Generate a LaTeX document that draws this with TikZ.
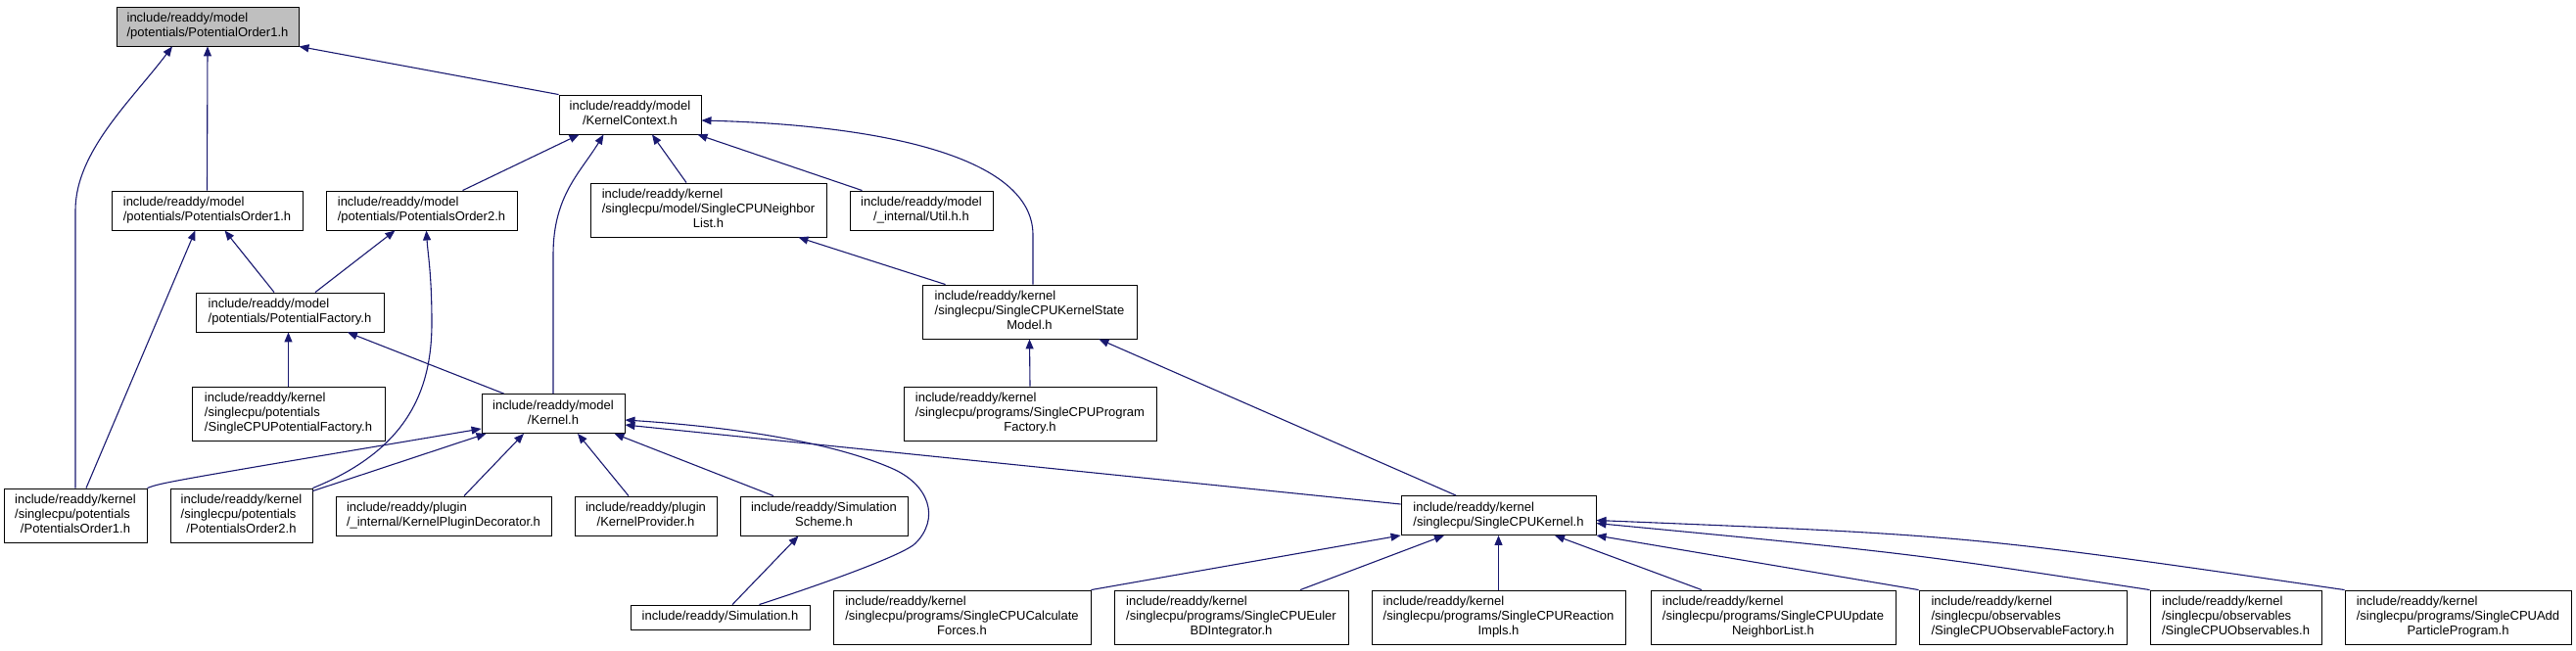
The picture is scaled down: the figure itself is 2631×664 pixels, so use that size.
\documentclass[tikz,border=0pt]{standalone}
\usepackage{fontspec}
\setmainfont{Liberation Sans}
\usetikzlibrary{arrows.meta}
\definecolor{edgeblue}{RGB}{25,25,112}
\definecolor{rootgray}{RGB}{191,191,191}
\newcommand{\hlabel}[2]{\begin{tabular}{@{}l@{}}#1\\\multicolumn{1}{@{}c@{}}{#2}\end{tabular}}

\begin{document}
\begin{tikzpicture}[
  x=1pt, y=-1pt,
  box/.style={draw, line width=0.9pt, inner sep=0pt, font=\fontsize{13}{15}\selectfont, minimum height=40pt},
  tall/.style={minimum height=55pt},
  arrow/.style={-{Triangle[length=10pt,width=8pt]}, line width=1.1pt, color=edgeblue}
]
\useasboundingbox (0,0) rectangle (2631,664);

\node[box, fill=rootgray, minimum width=186pt] (root) at (212,27) {\hlabel{include/readdy/model}{/potentials/PotentialOrder1.h}};
\node[box, minimum width=145pt] (context) at (643.5,117) {\hlabel{include/readdy/model}{/KernelContext.h}};
\node[box, minimum width=195pt] (pot1) at (211.5,215) {\hlabel{include/readdy/model}{/potentials/PotentialsOrder1.h}};
\node[box, minimum width=195pt] (pot2) at (430.5,215) {\hlabel{include/readdy/model}{/potentials/PotentialsOrder2.h}};
\node[box, tall, minimum width=241pt] (nlist) at (723.5,214.5) {\hlabel{include/readdy/kernel\\/singlecpu/model/SingleCPUNeighbor}{List.h}};
\node[box, minimum width=146pt] (util) at (941,215) {\hlabel{include/readdy/model}{/\_internal/Util.h.h}};
\node[box, minimum width=192pt] (potfac) at (296,319) {\hlabel{include/readdy/model}{/potentials/PotentialFactory.h}};
\node[box, tall, minimum width=219pt] (statemodel) at (1051.5,318.5) {\hlabel{include/readdy/kernel\\/singlecpu/SingleCPUKernelState}{Model.h}};
\node[box, tall, minimum width=197pt] (cpupotfac) at (294.5,422.5) {\hlabel{include/readdy/kernel\\/singlecpu/potentials}{/SingleCPUPotentialFactory.h}};
\node[box, minimum width=146pt] (kernel) at (565,422.5) {\hlabel{include/readdy/model}{/Kernel.h}};
\node[box, tall, minimum width=258pt] (progfac) at (1052,422.5) {\hlabel{include/readdy/kernel\\/singlecpu/programs/SingleCPUProgram}{Factory.h}};
\node[box, tall, minimum width=146pt] (cpupot1) at (77,526.5) {\hlabel{include/readdy/kernel\\/singlecpu/potentials}{/PotentialsOrder1.h}};
\node[box, tall, minimum width=145pt] (cpupot2) at (246.5,526.5) {\hlabel{include/readdy/kernel\\/singlecpu/potentials}{/PotentialsOrder2.h}};
\node[box, minimum width=220pt] (decorator) at (453,527) {\hlabel{include/readdy/plugin}{/\_internal/KernelPluginDecorator.h}};
\node[box, minimum width=145pt] (provider) at (659.5,527) {\hlabel{include/readdy/plugin}{/KernelProvider.h}};
\node[box, minimum width=171pt] (scheme) at (841.5,527) {\hlabel{include/readdy/Simulation}{Scheme.h}};
\node[box, minimum width=199pt] (cpukernel) at (1530.5,526.5) {\hlabel{include/readdy/kernel}{/singlecpu/SingleCPUKernel.h}};
\node[box, minimum width=183pt, minimum height=25pt] (simulation) at (735.5,630.5) {include/readdy/Simulation.h};
\node[box, tall, minimum width=263pt] (forces) at (982.5,630.5) {\hlabel{include/readdy/kernel\\/singlecpu/programs/SingleCPUCalculate}{Forces.h}};
\node[box, tall, minimum width=239pt] (euler) at (1257.5,630.5) {\hlabel{include/readdy/kernel\\/singlecpu/programs/SingleCPUEuler}{BDIntegrator.h}};
\node[box, tall, minimum width=259pt] (reactions) at (1530.5,630.5) {\hlabel{include/readdy/kernel\\/singlecpu/programs/SingleCPUReaction}{Impls.h}};
\node[box, tall, minimum width=250pt] (updatenl) at (1811,630.5) {\hlabel{include/readdy/kernel\\/singlecpu/programs/SingleCPUUpdate}{NeighborList.h}};
\node[box, tall, minimum width=212pt] (obsfac) at (2066,630.5) {\hlabel{include/readdy/kernel\\/singlecpu/observables}{/SingleCPUObservableFactory.h}};
\node[box, tall, minimum width=175pt] (observables) at (2283.5,630.5) {\hlabel{include/readdy/kernel\\/singlecpu/observables}{/SingleCPUObservables.h}};
\node[box, tall, minimum width=231pt] (addparticle) at (2510.5,630.5) {\hlabel{include/readdy/kernel\\/singlecpu/programs/SingleCPUAdd}{ParticleProgram.h}};

\draw[arrow] (pot1.north) -- (root.south);
\draw[arrow] (cpupot1.north) -- (77,215) .. controls (77,155) and (134,103) .. ([xshift=-36pt]root.south);
\draw[arrow] (context.north west) -- (root.south east);
\draw[arrow] ([xshift=42pt]pot2.north) -- ([xshift=-52pt]context.south);
\draw[arrow] (kernel.north) -- (565,260) .. controls (565,200) and (592.5,176.6) .. ([xshift=-27pt]context.south);
\draw[arrow] ([xshift=-22.5pt]nlist.north) -- ([xshift=22.5pt]context.south);
\draw[arrow] ([xshift=13pt]util.north west) -- ([xshift=-4pt]context.south east);
\draw[arrow] ([xshift=3.5pt]statemodel.north) -- (1055,240) .. controls (1055,160) and (900,128) .. ([yshift=-6pt]context.east);
\draw[arrow] ([xshift=11pt]cpupot1.north) -- ([xshift=-12pt]pot1.south);
\draw[arrow] ([xshift=-16pt]potfac.north) -- ([xshift=18pt]pot1.south);
\draw[arrow] ([xshift=26pt]potfac.north) -- ([xshift=-27pt]pot2.south);
\draw[arrow] (cpupot2.north east) .. controls (415,460) and (441,400) .. (441,330) .. controls (441,280) and (437,260) .. ([xshift=5pt]pot2.south);
\draw[arrow] (cpupotfac.north) -- (cpupotfac.north |- potfac.south);
\draw[arrow] ([xshift=23pt]kernel.north west) -- ([xshift=59pt]potfac.south);
\draw[arrow] ([xshift=24pt]statemodel.north west) -- ([xshift=-29pt]nlist.south east);
\draw[arrow] (progfac.north) -- (statemodel.south);
\draw[arrow] ([xshift=-43.5pt]cpukernel.north) -- ([xshift=-39pt]statemodel.south east);
\draw[arrow] (cpupot1.north east) .. controls (165,493) .. ([yshift=5pt]kernel.south west);
\draw[arrow] ([yshift=-3pt]cpupot2.north east) -- ([xshift=5pt]kernel.south west);
\draw[arrow] ([xshift=21pt]decorator.north) -- ([xshift=-30pt]kernel.south);
\draw[arrow] ([xshift=-17.5pt]provider.north) -- ([xshift=25pt]kernel.south);
\draw[arrow] ([xshift=-51.5pt]scheme.north) -- ([xshift=-11pt]kernel.south east);
\draw[arrow] ([xshift=40pt]simulation.north) .. controls (860,590) and (925,565) .. (935,555) .. controls (960,530) and (950,495) .. (910,478) .. controls (840,448) and (730,435) .. ([yshift=-6.5pt]kernel.east);
\draw[arrow] ([yshift=11.5pt]cpukernel.west) -- ([yshift=-11.5pt]kernel.east);
\draw[arrow] ([xshift=12.5pt]simulation.north) -- ([xshift=-26pt]scheme.south);
\draw[arrow] (forces.north east) -- (cpukernel.south west);
\draw[arrow] ([xshift=70.5pt]euler.north) -- ([xshift=-55.5pt]cpukernel.south);
\draw[arrow] (reactions.north) -- (cpukernel.south);
\draw[arrow] ([xshift=-73pt]updatenl.north) -- ([xshift=57.5pt]cpukernel.south);
\draw[arrow] (obsfac.north west) -- (cpukernel.south east);
\draw[arrow] (observables.north west) .. controls (1950,565) .. ([yshift=-8pt]cpukernel.east);
\draw[arrow] (addparticle.north west) .. controls (2012,547) .. ([yshift=-5pt]cpukernel.east);
\end{tikzpicture}
\end{document}
